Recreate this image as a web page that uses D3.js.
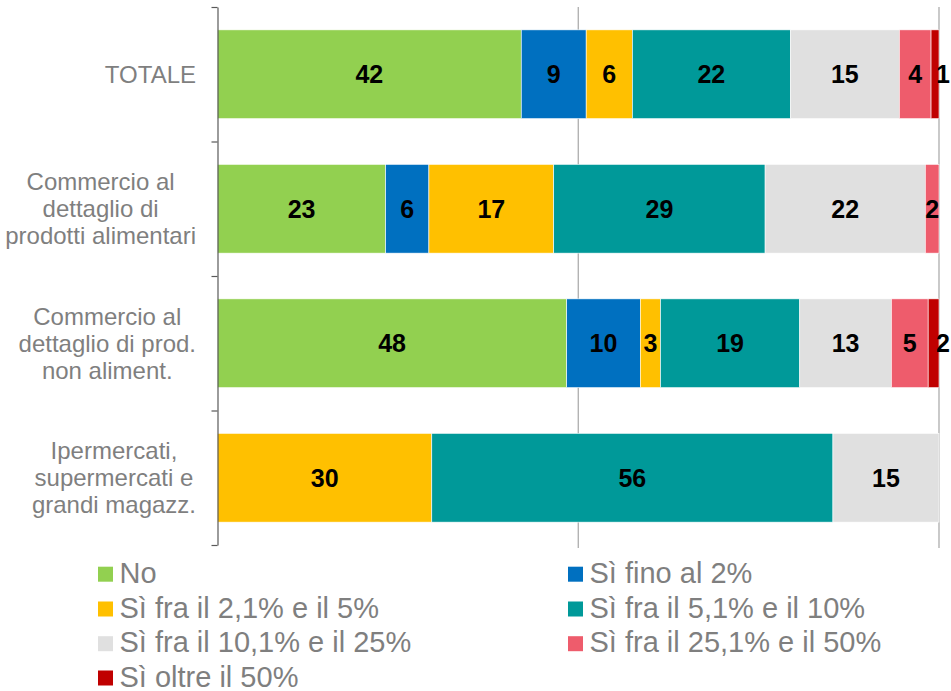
<!DOCTYPE html>
<html>
<head>
<meta charset="utf-8">
<script src="https://cdn.jsdelivr.net/npm/d3@7"></script>
<style>
  html, body { margin: 0; padding: 0; background: #fff; }
  svg { display: block; }
</style>
</head>
<body>
<svg id="chart" width="951" height="691"></svg>
<script>
const categories = ["TOTALE", "Commercio al dettaglio di prodotti alimentari", "Commercio al dettaglio di prod. non aliment.", "Ipermercati, supermercati e grandi magazz."];
const categoryLines = [["TOTALE"], ["Commercio al", "dettaglio di", "prodotti alimentari"], ["Commercio al", "dettaglio di prod.", "non aliment."], ["Ipermercati,", "supermercati e", "grandi magazz."]];
const seriesNames = ["No", "Sì fino al 2%", "Sì fra il 2,1% e il 5%", "Sì fra il 5,1% e il 10%", "Sì fra il 10,1% e il 25%", "Sì fra il 25,1% e il 50%", "Sì oltre il 50%"];
const seriesColors = ["#92D050", "#0070C0", "#FFC000", "#009999", "#E0E0E0", "#EE5C6C", "#C00000"];
const valNo = [42.1, 23.3, 48.4, 0];
const valFino2 = [9.0, 6.0, 10.2, 0];
const valFra2_5 = [6.4, 17.3, 2.8, 29.7];
const valFra5_10 = [21.9, 29.3, 19.3, 55.6];
const valFra10_25 = [15.1, 22.2, 12.7, 14.7];
const valFra25_50 = [4.4, 1.9, 5.1, 0];
const valOltre50 = [1.1, 0, 1.5, 0];
const xTicks = [0, 50, 100];

const seriesValues = [valNo, valFino2, valFra2_5, valFra5_10, valFra10_25, valFra25_50, valOltre50];
const keys = seriesNames;
const rows = categories.map((c, i) => {
  const r = { cat: c };
  keys.forEach((k, j) => r[k] = seriesValues[j][i]);
  return r;
});

const svg = d3.select("#chart");
const font = "'Liberation Sans', Arial, sans-serif";
const x = d3.scaleLinear().domain([0, 100]).range([217.5, 939]);
const y = d3.scaleBand().domain(categories).range([7, 545]).paddingInner(0.34).paddingOuter(0.17);
const color = d3.scaleOrdinal().domain(keys).range(seriesColors);

// gridlines
svg.append("g").selectAll("line").data(xTicks.filter(t => t > 0)).join("line")
  .attr("x1", d => x(d)).attr("x2", d => x(d))
  .attr("y1", 7).attr("y2", 548)
  .attr("stroke", "#a6a6a6").attr("stroke-width", 1.2);

const stack = d3.stack().keys(keys)(rows);

const layers = svg.append("g").selectAll("g").data(stack).join("g")
  .attr("fill", d => color(d.key));
layers.selectAll("rect").data(d => d.map(p => ({ p, key: d.key }))).join("rect")
  .attr("x", d => x(d.p[0]))
  .attr("width", d => x(d.p[1]) - x(d.p[0]))
  .attr("y", d => y(d.p.data.cat))
  .attr("height", y.bandwidth())
  .attr("stroke", "#ffffff").attr("stroke-width", 0.6);

// value labels
const labelG = svg.append("g");
stack.forEach(layer => {
  layer.forEach(p => {
    const v = p[1] - p[0];
    if (v <= 0) return;
    const x0 = x(p[0]), x1 = x(p[1]);
    const w = x1 - x0;
    const cx = w < 12 ? x1 + 4 : (x0 + x1) / 2;
    labelG.append("text")
      .attr("x", cx)
      .attr("y", y(p.data.cat) + y.bandwidth() / 2)
      .attr("dy", "0.36em")
      .attr("text-anchor", "middle")
      .attr("font-family", font).attr("font-size", 25).attr("font-weight", "bold")
      .attr("fill", "#000")
      .text(d3.format(".0f")(Math.round(v)));
  });
});

// y axis
const tickScale = d3.scaleLinear().domain([0, categories.length]).range([7, 545]);
const yAxis = d3.axisLeft(tickScale).tickValues(d3.range(categories.length + 1)).tickFormat("").tickSize(6).tickSizeOuter(0);
const ax = svg.append("g").attr("transform", "translate(217.5,0)").call(yAxis);
ax.selectAll("path, line").attr("stroke", "#595959").attr("stroke-width", 1.2);

// category labels
const catG = svg.append("g");
categories.forEach((c, i) => {
  const lines = categoryLines[i];
  const lh = 27;
  const cy = y(c) + y.bandwidth() / 2;
  const g = catG.append("g");
  const texts = lines.map((ln, k) => g.append("text")
    .attr("y", cy + (k - (lines.length - 1) / 2) * lh)
    .attr("dy", "0.36em")
    .attr("text-anchor", "middle")
    .attr("font-family", font).attr("font-size", 24)
    .attr("fill", "#7f7f7f")
    .text(ln));
  const maxW = d3.max(texts, t => t.node().getComputedTextLength());
  texts.forEach(t => t.attr("x", 196 - maxW / 2));
});

// legend
const legend = svg.append("g");
const colX = [98, 568];
const rowBase = [582.7, 617.5, 652.2, 686.5];
keys.forEach((k, i) => {
  const col = i % 2, row = Math.floor(i / 2);
  const g = legend.append("g").attr("transform", `translate(${colX[col]},${rowBase[row]})`);
  g.append("rect").attr("x", 0).attr("y", -16).attr("width", 15).attr("height", 15).attr("fill", color(k));
  g.append("text").attr("x", 21.5).attr("y", 0)
    .attr("font-family", font).attr("font-size", 29).attr("fill", "#7f7f7f")
    .text(k);
});
</script>
</body>
</html>
